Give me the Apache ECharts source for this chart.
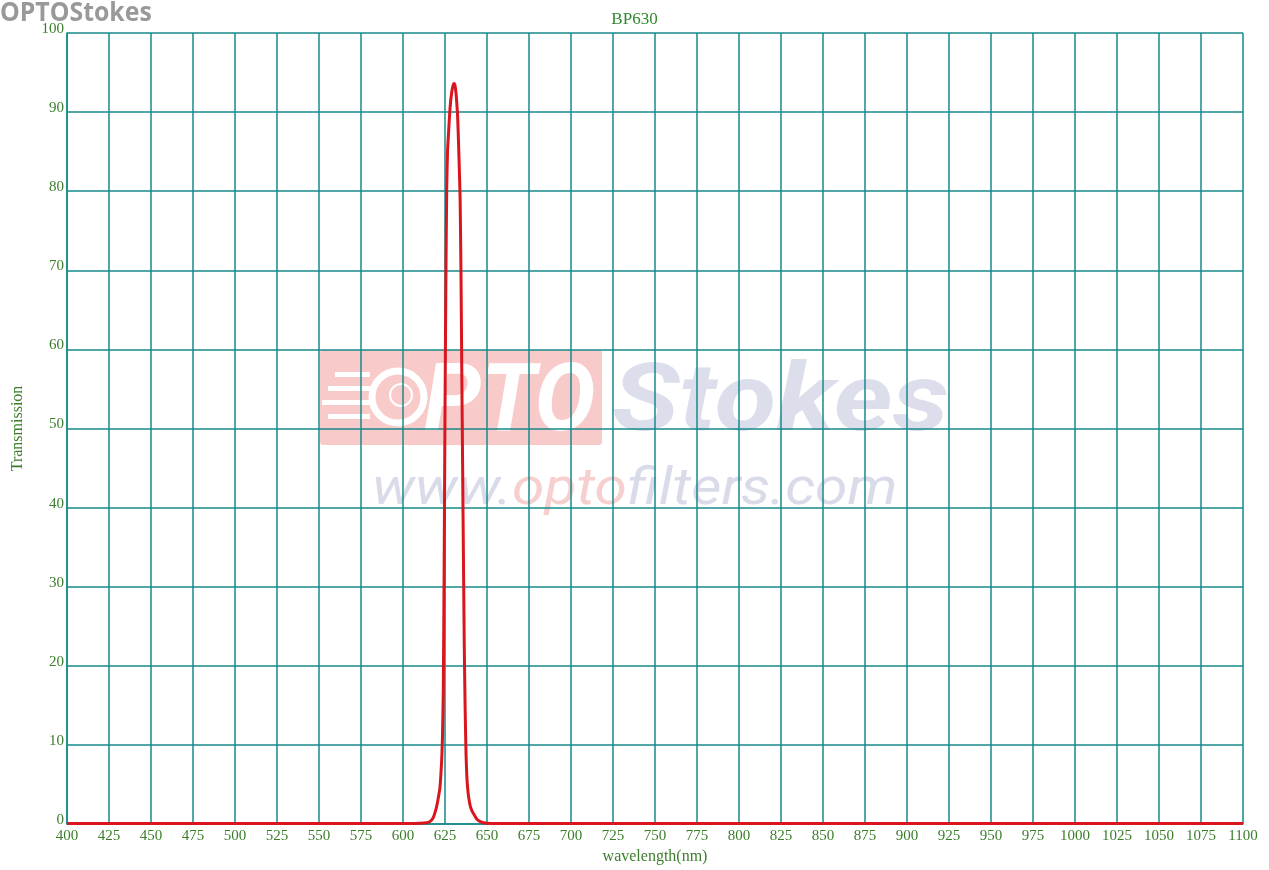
<!DOCTYPE html>
<html>
<head>
<meta charset="utf-8">
<script src="https://cdn.jsdelivr.net/npm/echarts@6/dist/echarts.min.js"></script>
<style>html,body{margin:0;padding:0;background:#fff;}#c{width:1269px;height:870px;}</style>
</head>
<body>
<div id="c"></div>
<script>
const titleText = 'BP630';
const xName = 'wavelength(nm)';
const yName = 'Transmission';
const wavelengths = [400,450,500,550,580,600,605,610,614,616,618,619,620,621,622,623,623.5,624,624.5,625,625.5,626,626.5,627,628,629,630,630.5,631,631.5,632,632.5,633,633.5,634,634.5,635,635.5,636,636.5,637,637.5,638,638.5,639,640,641,642,644,646,648,650,655,660,700,750,800,850,900,950,1000,1050,1100];
const transmission = [0.05,0.05,0.05,0.05,0.05,0.05,0.05,0.08,0.15,0.3,0.8,1.4,2.2,3.3,4.6,8,11,17,33,52,68,80,85,87,90.5,92.5,93.5,93.6,93.3,92.5,91.2,89.5,86.5,83,79,70,57,45,33,22,14.5,9,6,4.5,3.5,2.3,1.7,1.3,0.6,0.3,0.15,0.08,0.05,0.05,0.05,0.05,0.05,0.05,0.05,0.05,0.05,0.05,0.05];

const gridColor = '#17888a';
const labelColor = '#3c7d2c';
const serif = '"Liberation Serif", "DejaVu Serif", serif';

const chart = echarts.init(document.getElementById('c'));
chart.setOption({
  backgroundColor: '#ffffff',
  animation: false,
  title: {
    text: titleText, left: 'center', top: 6,
    textStyle: {color: '#2f8a2f', fontFamily: serif, fontSize: 17, fontWeight: 'normal'}
  },
  grid: {left: 67, right: 26, top: 33, bottom: 46, show: false, containLabel: false, outerBoundsMode: 'none'},
  graphic: [
    {type: 'text', x: 0, y: 0, scaleX: 0.92, z: 100,
     style: {text: 'OPTOStokes', fill: '#999999', font: 'bold 27px "Open Sans", sans-serif', verticalAlign: 'top'}},
    {type: 'rect', z: -10, shape: {x: 320, y: 350, width: 282, height: 95, r: 3}, style: {fill: '#f9caca'}},
    {type: 'text', z: -9, x: 424, y: 359, scaleX: 0.97,
     style: {text: 'PTO', fill: '#ffffff', font: 'italic bold 94px Roboto, sans-serif', verticalAlign: 'top'}},
    {type: 'circle', z: -9, shape: {cx: 398, cy: 397, r: 26}, style: {fill: 'none', stroke: '#ffffff', lineWidth: 7}},
    {type: 'circle', z: -9, shape: {cx: 401, cy: 395, r: 11}, style: {fill: 'none', stroke: '#ffffff', lineWidth: 2}},
    {type: 'rect', z: -9, shape: {x: 335, y: 372, width: 35, height: 5}, style: {fill: '#ffffff'}},
    {type: 'rect', z: -9, shape: {x: 328, y: 386, width: 42, height: 5}, style: {fill: '#ffffff'}},
    {type: 'rect', z: -9, shape: {x: 322, y: 400, width: 48, height: 5}, style: {fill: '#ffffff'}},
    {type: 'rect', z: -9, shape: {x: 328, y: 414, width: 42, height: 5}, style: {fill: '#ffffff'}},
    {type: 'text', z: -9, x: 612, y: 359, scaleX: 1.15, scaleY: 0.96,
     style: {text: 'Stokes', fill: '#dcdeeb', font: 'italic bold 98px Roboto, sans-serif', verticalAlign: 'top'}},
    {type: 'text', z: -9, x: 372, y: 465, scaleX: 1.13,
     style: {rich: {a: {fill: '#d9dbe9', font: 'italic 52px Roboto, sans-serif'}, b: {fill: '#f7cfcf', font: 'italic 52px Roboto, sans-serif'}},
             text: '{a|www.}{b|opto}{a|filters.com}', verticalAlign: 'top'}}
  ],
  xAxis: {
    type: 'value', min: 400, max: 1100, interval: 25,
    name: xName, nameLocation: 'middle', nameGap: 24,
    nameTextStyle: {color: labelColor, fontFamily: serif, fontSize: 16},
    axisLine: {show: true, lineStyle: {color: gridColor, width: 1.5}},
    axisTick: {show: false},
    axisLabel: {color: labelColor, fontFamily: serif, fontSize: 15, margin: 5, showMinLabel: true, showMaxLabel: true,
                formatter: v => String(v)},
    splitLine: {show: true, lineStyle: {color: gridColor, width: 1.5}}
  },
  yAxis: {
    type: 'value', min: 0, max: 100, interval: 10,
    name: yName, nameLocation: 'middle', nameGap: 41, nameRotate: 90,
    nameTextStyle: {color: labelColor, fontFamily: serif, fontSize: 16},
    axisLine: {show: true, lineStyle: {color: gridColor, width: 1.5}},
    axisTick: {show: false},
    axisLabel: {color: labelColor, fontFamily: serif, fontSize: 15, margin: 3, verticalAlign: 'bottom', lineHeight: 8,
                formatter: v => String(v)},
    splitLine: {show: true, lineStyle: {color: gridColor, width: 1.5}}
  },
  series: [{
    type: 'line', data: wavelengths.map((w, i) => [w, transmission[i]]),
    showSymbol: false, smooth: 0.2, clip: false, z: 5,
    lineStyle: {color: '#d9151d', width: 3}
  }]
});
</script>
</body>
</html>
